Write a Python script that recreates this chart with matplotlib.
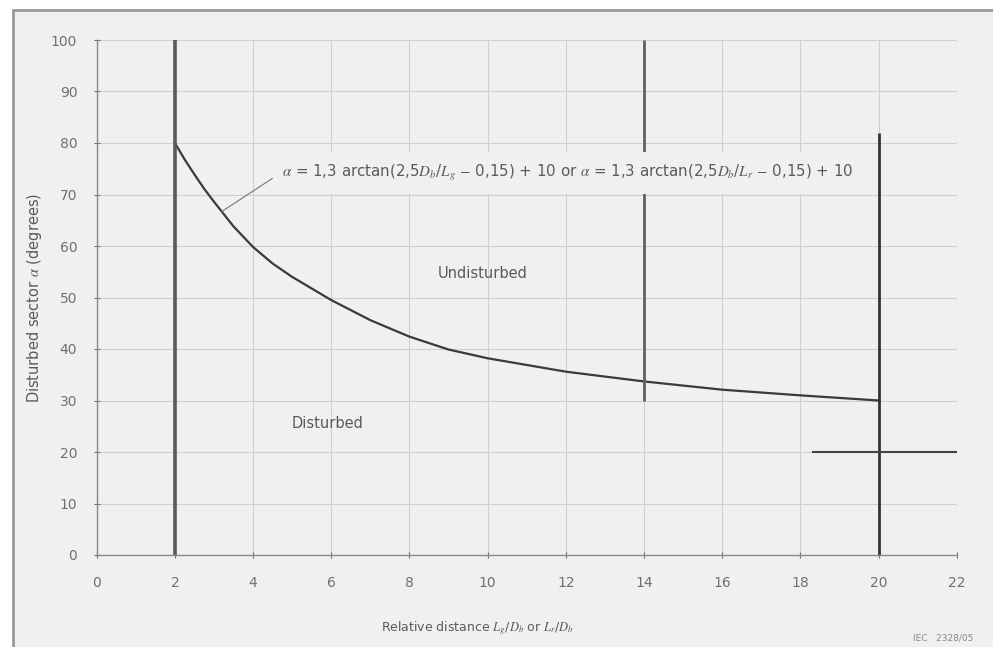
import matplotlib
matplotlib.use("Agg")
import matplotlib.pyplot as plt
from matplotlib.patches import Rectangle

# curve
dist = [2, 2.25, 2.5, 2.75, 3, 3.5, 4, 4.5, 5, 6, 7, 8, 9, 10, 12, 14, 16, 18, 20]
alpha = [80, 76.8, 73.9, 71.1, 68.6, 63.8, 59.8, 56.6, 54.0, 49.5, 45.6, 42.4,
         39.9, 38.2, 35.6, 33.7, 32.1, 31.0, 30.0]

# boundary lines
bound_x = [2, 14, 20]
bound_lo = [0, 30, 0]
bound_hi = [100, 100, 82]
cross_y = 20
cross_x = [18.33, 22]

x_ticks = list(range(0, 23, 2))
y_ticks = list(range(0, 101, 10))

eq_text = (r"$\alpha$ = 1,3 arctan(2,5$D_b$/$L_g$ $-$ 0,15) + 10 or "
           r"$\alpha$ = 1,3 arctan(2,5$D_b$/$L_r$ $-$ 0,15) + 10")

plt.rcParams["font.family"] = ["DejaVu Sans"]
plt.rcParams["mathtext.fontset"] = "stix"

bg = "#f0f0ee"
txt = "#5a5a5a"

fig = plt.figure(figsize=(9.93, 6.47), dpi=100, facecolor="white")
# panel frame
fig.add_artist(Rectangle((13 / 993, -0.05), 1.0, 1 - 10 / 647 + 0.05,
                         transform=fig.transFigure, facecolor=bg,
                         edgecolor="#9a9a9a", linewidth=2, zorder=0))

ax = fig.add_axes([96.7 / 993, 1 - 555 / 647, 860 / 993, 515 / 647])
ax.set_facecolor("none")
ax.set_xlim(0, 22)
ax.set_ylim(0, 100)
ax.set_xticks(x_ticks)
ax.set_yticks(y_ticks)
ax.grid(True, color="#cfcfcd", linewidth=0.8)
for side in ["top", "right"]:
    ax.spines[side].set_visible(False)
for side in ["left", "bottom"]:
    ax.spines[side].set_color("#8a8a8a")
    ax.spines[side].set_linewidth(1.0)
ax.tick_params(axis="x", length=4, direction="inout", pad=13, labelsize=10,
               colors="#707070")
ax.tick_params(axis="y", length=4, direction="inout", pad=12, labelsize=10,
               colors="#707070")

ax.plot(dist, alpha, color="#3a3a3a", linewidth=1.6, zorder=2)
widths = [2.6, 2.0, 2.0]
colors = ["#5a5a5a", "#606060", "#333333"]
for bx, lo, hi, w, c in zip(bound_x, bound_lo, bound_hi, widths, colors):
    ax.plot([bx, bx], [lo, hi], color=c, linewidth=w, zorder=2,
            solid_capstyle="butt")
ax.plot(cross_x, [cross_y, cross_y], color="#444444", linewidth=1.5, zorder=2)

ax.text(4.74, 74.2, eq_text, fontsize=10.8, color=txt, va="center",
        ha="left", zorder=3,
        bbox=dict(facecolor=bg, edgecolor="none", pad=8))
ax.plot([3.2, 4.49], [66.7, 73.1], color="#777777", linewidth=0.8, zorder=4)

ax.text(8.72, 54.7, "Undisturbed", fontsize=10.5, color=txt, va="center",
        ha="left")
ax.text(5.9, 25.6, "Disturbed", fontsize=10.5, color=txt, va="center",
        ha="center")

ax.set_ylabel(r"Disturbed sector $\alpha$ (degrees)", fontsize=10.5,
              color=txt, labelpad=5)
fig.text(381 / 993, 1 - 628 / 647,
         r"Relative distance $L_g$/$D_b$ or $L_r$/$D_b$", fontsize=9,
         color=txt, ha="left", va="center")
fig.text(913 / 993, 1 - 638 / 647, "IEC   2328/05", fontsize=6.5,
         color="#888888", ha="left", va="center")

fig.savefig("out.png", dpi=100, facecolor=fig.get_facecolor())
